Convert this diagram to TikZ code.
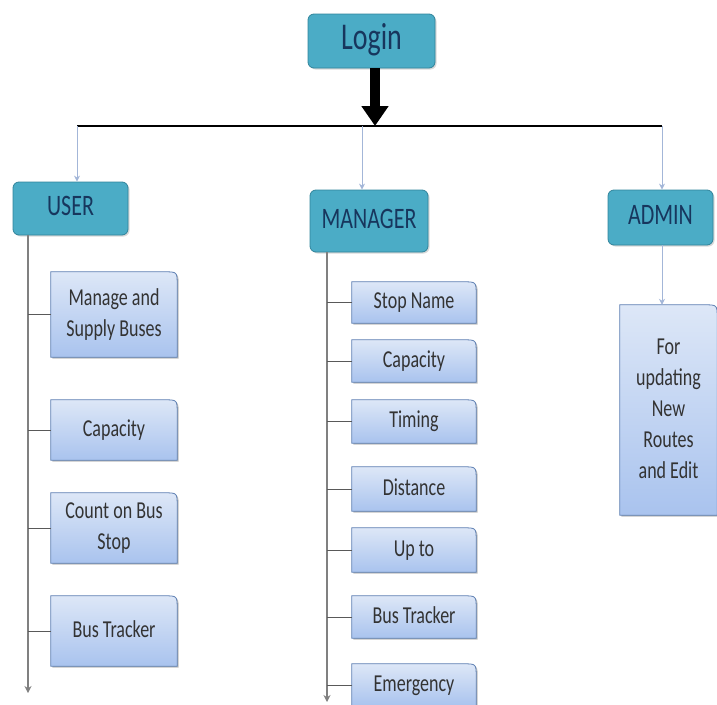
\documentclass[tikz,border=0pt]{standalone}
\usepackage{fontspec}
\setmainfont{Carlito}
\usepackage{graphicx}
\usetikzlibrary{arrows.meta,shadows}
\pgfdeclarelayer{background}
\pgfsetlayers{background,main}
\definecolor{headfill}{HTML}{4BACC6}
\definecolor{headline}{HTML}{31849B}
\definecolor{headtext}{HTML}{17365D}
\definecolor{subtop}{HTML}{DDE7F7}
\definecolor{subbot}{HTML}{A9C3EE}
\definecolor{subline}{HTML}{5B7DB1}
\definecolor{droparrow}{HTML}{A3B6D8}
\newcommand{\tallt}[1]{\scalebox{1}[1.35]{\begin{tabular}{@{}c@{}}#1\end{tabular}}}
\begin{document}
\begin{tikzpicture}[x=1pt,y=-1pt,
  head/.style={rectangle,rounded corners=6pt,fill=headfill,draw=headline,line width=0.8pt,
    text=headtext,inner sep=0pt,font=\fontsize{22}{26}\selectfont,
    drop shadow={shadow xshift=1.5pt,shadow yshift=-1.5pt,opacity=0.3}},
  sub/.style={rectangle,inner sep=0pt,text=black!80,font=\fontsize{18}{23}\selectfont},
  subshape/.style={top color=subtop,bottom color=subbot,draw=subline,line width=0.8pt},
  subshadow/.style={fill=black!25,transform canvas={shift={(1.5pt,-1.5pt)}}},
  spine/.style={draw=gray,line width=2pt,-{Stealth[length=7pt,width=7pt]}},
  branch/.style={draw=black!65,line width=1pt},
  drop/.style={draw=droparrow,line width=1pt,-{Stealth[length=6pt,width=6pt]}}]
  \useasboundingbox (0,0) rectangle (717,704);
  \node[head,minimum width=127pt,minimum height=54pt,font=\fontsize{28}{30}\selectfont] (login) at (371.5,41) {\tallt{Login}};
  \node[head,minimum width=115pt,minimum height=53pt] (user) at (70.5,208.5) {\tallt{USER}};
  \node[head,minimum width=118pt,minimum height=62pt] (manager) at (369,221) {\tallt{MANAGER}};
  \node[head,minimum width=105pt,minimum height=55pt] (admin) at (660.5,217.5) {\tallt{ADMIN}};
  \node[sub,minimum width=126pt,minimum height=85pt] (u1) at (114,314.5) {\tallt{Manage and\\Supply Buses}};
  \node[sub,minimum width=126pt,minimum height=60pt] (u2) at (114,430) {\tallt{Capacity}};
  \node[sub,minimum width=126pt,minimum height=70pt] (u3) at (114,528) {\tallt{Count on Bus\\Stop}};
  \node[sub,minimum width=126pt,minimum height=70pt] (u4) at (114,631) {\tallt{Bus Tracker}};
  \node[sub,minimum width=124pt,minimum height=41pt] (m1) at (414,302.5) {\tallt{Stop Name}};
  \node[sub,minimum width=124pt,minimum height=42pt] (m2) at (414,361) {\tallt{Capacity}};
  \node[sub,minimum width=124pt,minimum height=43pt] (m3) at (414,421.5) {\tallt{Timing}};
  \node[sub,minimum width=124pt,minimum height=44pt] (m4) at (414,489) {\tallt{Distance}};
  \node[sub,minimum width=124pt,minimum height=44pt] (m5) at (414,550) {\tallt{Up to}};
  \node[sub,minimum width=124pt,minimum height=42pt] (m6) at (414,617) {\tallt{Bus Tracker}};
  \node[sub,minimum width=124pt,minimum height=42pt] (m7) at (414,685) {\tallt{Emergency}};
  \node[sub,minimum width=97pt,minimum height=210pt] (a1) at (668.5,410) {\tallt{For\\updating\\New\\Routes\\and Edit}};
  \begin{pgfonlayer}{background}
    \foreach \n in {u1,u2,u3,u4,m1,m2,m3,m4,m5,m6,m7,a1}{
      \fill[subshadow] (\n.south west) -- (\n.north west) -- ([xshift=-13pt]\n.north east)
        .. controls (\n.north east) .. ([yshift=-13pt]\n.north east) -- (\n.south east) -- cycle;
      \shadedraw[subshape] (\n.south west) -- (\n.north west) -- ([xshift=-13pt]\n.north east)
        .. controls (\n.north east) .. ([yshift=-13pt]\n.north east) -- (\n.south east) -- cycle;
    }
  \end{pgfonlayer}
  \coordinate (cu) at (77,126);
  \coordinate (cm) at (362,126);
  \coordinate (ca) at (662,126);
  \coordinate (hm) at (375,126);
  \coordinate (uend) at (28,693);
  \coordinate (mend) at (327,702);
  \draw[line width=1.3pt] (cu) -- (ca);
  \draw[line width=10pt,-{Triangle[width=26pt,length=20pt]}] (login.south -| hm) -- (hm);
  \draw[drop] (cu) -- (user.north -| cu);
  \draw[drop] (cm) -- (manager.north -| cm);
  \draw[drop] (ca) -- (admin.north -| ca);
  \draw[drop] (admin.south -| ca) -- (a1.north -| ca);
  \draw[spine] (user.south -| uend) -- (uend);
  \draw[spine] (manager.south -| mend) -- (mend);
  \foreach \n in {u1,u2,u3,u4}
    \draw[branch] (\n.west -| uend) -- (\n.west);
  \foreach \n in {m1,m2,m3,m4,m5,m6,m7}
    \draw[branch] (\n.west -| mend) -- (\n.west);
\end{tikzpicture}
\end{document}
